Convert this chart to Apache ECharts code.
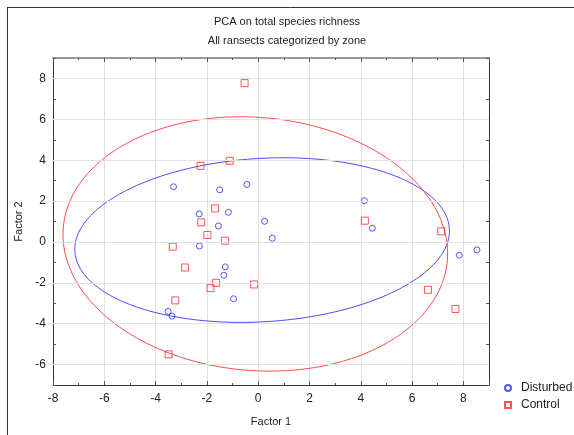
<!DOCTYPE html>
<html>
<head>
<meta charset="utf-8">
<script src="https://cdn.jsdelivr.net/npm/echarts@6/dist/echarts.min.js"></script>
<style>html,body{margin:0;padding:0;background:#fff}#c{width:574px;height:435px}</style>
</head>
<body>
<div id="c"></div>
<script>
const titleText = 'PCA on total species richness';
const subtitleText = 'All ransects categorized by zone';
const xTicks = [-8, -6, -4, -2, 0, 2, 4, 6, 8];
const yTicks = [-6, -4, -2, 0, 2, 4, 6, 8];
const disturbedX = [-3.30, -1.50, -0.44, -2.30, -1.16, -1.55, 0.25, 0.55, -2.29, -1.28, -1.34, -0.96, -3.51, -3.36, 4.14, 4.45, 7.84, 8.53];
const disturbedY = [2.70, 2.55, 2.81, 1.37, 1.45, 0.78, 1.01, 0.18, -0.20, -1.22, -1.63, -2.78, -3.40, -3.63, 2.02, 0.67, -0.65, -0.39];
const controlX = [-0.53, -2.25, -1.11, -1.68, -2.22, -1.98, -1.29, -3.33, -2.85, -1.64, -1.86, -0.16, -3.23, -3.49, 4.16, 7.14, 6.62, 7.69];
const controlY = [7.77, 3.72, 3.97, 1.64, 0.96, 0.34, 0.06, -0.23, -1.25, -2.00, -2.26, -2.08, -2.86, -5.50, 1.04, 0.52, -2.34, -3.28];
const ellipseK = 2;

function zip(xs, ys) { return xs.map((x, i) => [x, ys[i]]); }
function ellipse(xs, ys, k, n) {
  const m = xs.length;
  const mx = xs.reduce((a, b) => a + b, 0) / m;
  const my = ys.reduce((a, b) => a + b, 0) / m;
  let sxx = 0, syy = 0, sxy = 0;
  for (let i = 0; i < m; i++) {
    const dx = xs[i] - mx, dy = ys[i] - my;
    sxx += dx * dx; syy += dy * dy; sxy += dx * dy;
  }
  sxx /= (m - 1); syy /= (m - 1); sxy /= (m - 1);
  const l11 = Math.sqrt(sxx), l21 = sxy / l11, l22 = Math.sqrt(syy - l21 * l21);
  const pts = [];
  for (let j = 0; j <= n; j++) {
    const t = 2 * Math.PI * j / n;
    pts.push([mx + k * l11 * Math.cos(t), my + k * (l21 * Math.cos(t) + l22 * Math.sin(t))]);
  }
  return pts;
}

const BLUE = '#2b2bff', RED = '#ff2b2b';
const FONT = 'Liberation Sans';
const chart = echarts.init(document.getElementById('c'), null, {renderer: 'canvas'});
const gridLeft = 53, gridRight = 85, gridTop = 58, gridBottom = 50;

const xCommon = {type: 'value', min: -8, max: 9, interval: 2};
const yCommon = {type: 'value', min: -7, max: 9, interval: 1};

chart.setOption({
  animation: false,
  backgroundColor: '#fff',
  textStyle: {fontFamily: FONT},
  title: [
    {text: titleText, left: 'center', top: 11, textStyle: {fontSize: 11, fontWeight: 'normal', color: '#222', fontFamily: FONT}},
    {text: subtitleText, left: 'center', top: 30, textStyle: {fontSize: 11, fontWeight: 'normal', color: '#222', fontFamily: FONT}}
  ],
  graphic: [
    {type: 'line', shape: {x1: 7.5, y1: 7, x2: 7.5, y2: 435}, style: {stroke: '#333', lineWidth: 1}},
    {type: 'line', shape: {x1: 7, y1: 7.5, x2: 574, y2: 7.5}, style: {stroke: '#333', lineWidth: 1}}
  ],
  legend: {
    orient: 'vertical', left: 504, top: 382, padding: 0, itemWidth: 6, itemHeight: 6, itemGap: 5,
    textStyle: {fontSize: 12, color: '#222', fontFamily: FONT, padding: [0, 0, 0, 5]},
    data: [{name: 'Disturbed', icon: 'circle'}, {name: 'Control', icon: 'rect'}]
  },
  grid: {left: gridLeft, right: gridRight, top: gridTop, bottom: gridBottom, containLabel: false},
  xAxis: [
    Object.assign({}, xCommon, {
      position: 'bottom', name: 'Factor 1', nameLocation: 'middle', nameGap: 31,
      nameTextStyle: {fontSize: 11, color: '#222', fontFamily: FONT},
      axisLine: {show: true, onZero: false, lineStyle: {color: '#333', width: 1}},
      axisTick: {show: true, inside: true, length: 4, lineStyle: {color: '#555'}},
      minorTick: {show: true, splitNumber: 2, length: 2, lineStyle: {color: '#555'}},
      axisLabel: {show: true, fontSize: 12, color: '#222', margin: 8, fontFamily: FONT,
        formatter: v => (xTicks.indexOf(v) >= 0 ? String(v) : '')},
      splitLine: {show: true, lineStyle: {color: '#e2e2e2', width: 1}}
    }),
    Object.assign({}, xCommon, {
      position: 'top',
      axisLine: {show: true, onZero: false, lineStyle: {color: '#999', width: 2}},
      axisTick: {show: true, inside: true, length: 4, lineStyle: {color: '#555'}},
      minorTick: {show: true, splitNumber: 2, length: 2, lineStyle: {color: '#555'}},
      axisLabel: {show: false}, splitLine: {show: false}
    })
  ],
  yAxis: [
    Object.assign({}, yCommon, {
      position: 'left', name: 'Factor 2', nameLocation: 'middle', nameGap: 27,
      nameTextStyle: {fontSize: 11, color: '#222', fontFamily: FONT},
      axisLine: {show: true, onZero: false, lineStyle: {color: '#333', width: 1}},
      axisTick: {show: true, inside: true, length: 3, lineStyle: {color: '#555'}},
      axisLabel: {show: true, fontSize: 12, color: '#222', margin: 7, fontFamily: FONT,
        formatter: v => (yTicks.indexOf(v) >= 0 ? String(v) : '')},
      splitLine: {show: false}
    }),
    Object.assign({}, yCommon, {
      position: 'right',
      axisLine: {show: true, onZero: false, lineStyle: {color: '#333', width: 1}},
      axisTick: {show: true, inside: true, length: 3, lineStyle: {color: '#555'}},
      axisLabel: {show: false}, splitLine: {show: false}
    })
  ],
  series: [
    {
      name: 'Disturbed ellipse', type: 'line', data: ellipse(disturbedX, disturbedY, ellipseK, 240),
      showSymbol: false, smooth: false, z: 2, silent: true,
      lineStyle: {color: '#4a4aff', width: 1},
      markLine: {
        silent: true, symbol: 'none', label: {show: false}, animation: false,
        lineStyle: {color: '#e2e2e2', type: 'solid', width: 1},
        data: yTicks.map(v => ({yAxis: v}))
      }
    },
    {
      name: 'Control ellipse', type: 'line', data: ellipse(controlX, controlY, ellipseK, 240),
      showSymbol: false, smooth: false, z: 2, silent: true,
      lineStyle: {color: '#ff4a4a', width: 1}
    },
    {
      name: 'Disturbed', type: 'scatter', data: zip(disturbedX, disturbedY), symbol: 'circle', symbolSize: 6, z: 3,
      itemStyle: {color: 'rgba(255,255,255,0)', borderColor: BLUE, borderWidth: 1}
    },
    {
      name: 'Control', type: 'scatter', data: zip(controlX, controlY), symbol: 'rect', symbolSize: 7, z: 3,
      itemStyle: {color: 'rgba(255,255,255,0)', borderColor: RED, borderWidth: 1}
    }
  ]
});
</script>
</body>
</html>
